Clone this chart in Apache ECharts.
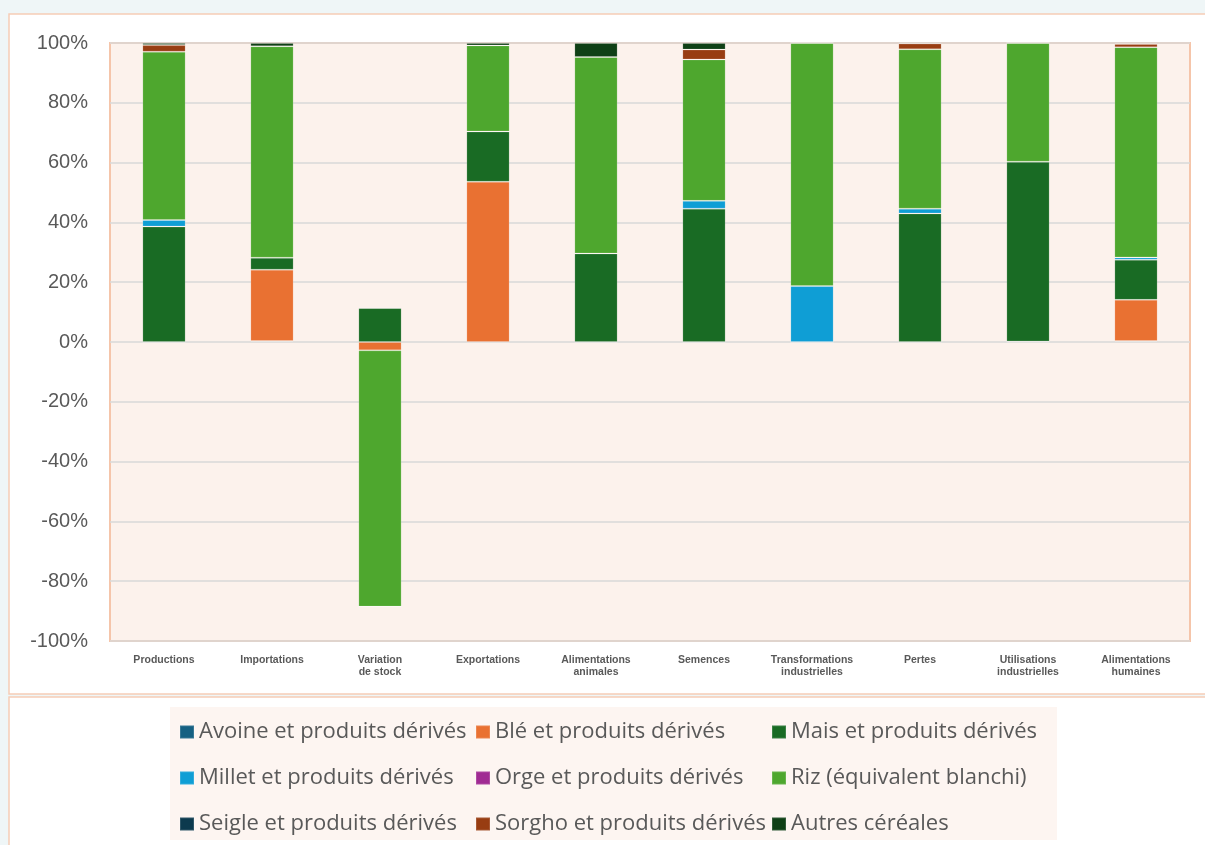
<!DOCTYPE html>
<html>
<head>
<meta charset="utf-8">
<script src="https://cdn.jsdelivr.net/npm/echarts@6/dist/echarts.min.js"></script>
<style>
html,body{margin:0;padding:0;background:#eff6f7;}
#chart{width:1205px;height:845px;}
</style>
</head>
<body>
<div id="chart"></div>
<script>
const categories = ['Productions','Importations','Variation\nde stock','Exportations','Alimentations\nanimales','Semences','Transformations\nindustrielles','Pertes','Utilisations\nindustrielles','Alimentations\nhumaines'];
const seriesNames = ['Avoine et produits dérivés','Blé et produits dérivés','Mais et produits dérivés','Millet et produits dérivés','Orge et produits dérivés','Riz (équivalent blanchi)','Seigle et produits dérivés','Sorgho et produits dérivés','Autres céréales'];
const avoine = [0, 0.3, 0, 0, 0, 0, 0, 0, 0, 0.3];
const ble    = [0, 23.9, -2.8, 53.6, 0, 0, 0, 0, 0.2, 13.8];
const mais   = [38.6, 4.0, 11.35, 16.8, 29.6, 44.6, 0, 43.0, 60.1, 13.4];
const millet = [2.2, 0, 0, 0, 0, 2.6, 18.7, 1.6, 0, 0.8];
const orge   = [0, 0, 0, 0, 0, 0, 0, 0, 0, 0];
const riz    = [56.3, 70.7, -85.7, 28.8, 65.7, 47.3, 81.3, 53.3, 39.7, 70.3];
const seigle = [0, 0, 0, 0, 0, 0, 0, 0, 0, 0];
const sorgho = [2.2, 0, 0, 0, 0, 3.3, 0, 1.9, 0, 1.1];
const autres = [0.7, 1.1, 0, 0.8, 4.7, 2.2, 0, 0.2, 0, 0.3];
const yTicks = {min: -100, max: 100, interval: 20};

const seriesData = [avoine, ble, mais, millet, orge, riz, seigle, sorgho, autres];
const colors = ['#156082','#E97132','#196B24','#0F9ED5','#A02B93','#4EA72E','#0C3A4E','#983D12','#0F4016'];

const chart = echarts.init(document.getElementById('chart'));
const legendText = {color:'#595959', fontSize:22, fontFamily:'Open Sans', lineHeight:26};
function legendCol(names, left){
  return {orient:'vertical', left:left, top:719, padding:0, itemGap:20, itemWidth:14, itemHeight:13,
    icon:'rect', textStyle:legendText, data:names, selectedMode:false};
}
chart.setOption({
  backgroundColor:'#eff6f7',
  animation:false,
  color: colors,
  graphic:[
    {type:'rect', z:-10, shape:{x:9,y:14,width:1200,height:680}, style:{fill:'#ffffff', stroke:'#f6cdb7', lineWidth:1.5}},
    {type:'rect', z:-10, shape:{x:9,y:697,width:1200,height:160}, style:{fill:'#ffffff', stroke:'#f6cdb7', lineWidth:1.5}},
    {type:'rect', z:-9, shape:{x:170,y:707,width:887,height:133}, style:{fill:'#fdf5f1'}}
  ],
  legend:[
    legendCol([seriesNames[0],seriesNames[3],seriesNames[6]], 179),
    legendCol([seriesNames[1],seriesNames[4],seriesNames[7]], 475),
    legendCol([seriesNames[2],seriesNames[5],seriesNames[8]], 771)
  ],
  grid:{left:110, right:15, top:43, bottom:204, show:true, backgroundColor:'#fcf2ec', borderColor:'#f5c5aa', borderWidth:2},
  xAxis:{type:'category', data:categories,
    axisLine:{show:false, onZero:false}, axisTick:{show:false},
    axisLabel:{color:'#595959', fontSize:10.5, fontWeight:'bold', fontFamily:'Liberation Sans', margin:13, lineHeight:12, interval:0}},
  yAxis:{type:'value', min:yTicks.min, max:yTicks.max, interval:yTicks.interval,
    axisLine:{show:false}, axisTick:{show:false},
    axisLabel:{formatter:'{value}%', color:'#595959', fontSize:20, fontFamily:'Liberation Sans', margin:22},
    splitLine:{lineStyle:{color:'#d9d9d9', width:1.5}}},
  series: seriesNames.map((n,i)=>({
    name:n, type:'bar', stack:'total', barWidth:'40%', data:seriesData[i],
    itemStyle:{color:colors[i], borderColor:'rgba(255,255,255,0.15)', borderWidth:1}
  }))
});
</script>
</body>
</html>
